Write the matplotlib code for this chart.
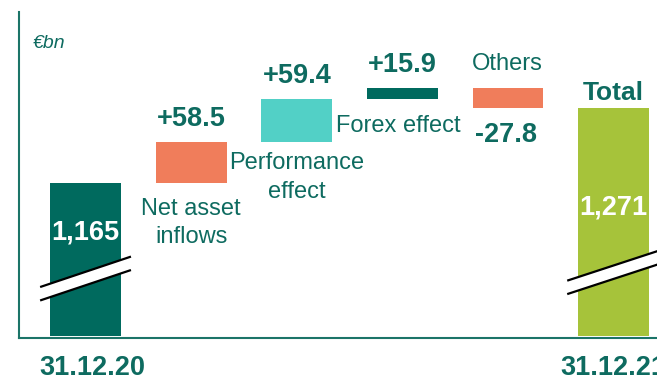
import matplotlib.pyplot as plt
from matplotlib.patches import Polygon

plt.rcParams["font.family"] = ["Liberation Sans", "DejaVu Sans"]

# AuM bridge, EUR bn
start_label = "31.12.20"
end_label = "31.12.21"
start_value = 1165
steps = ["Net asset\ninflows", "Performance\neffect", "Forex effect", "Others"]
deltas = [58.5, 59.4, 15.9, -27.8]
delta_labels = ["+58.5", "+59.4", "+15.9", "-27.8"]
total_value = 1271
start_text = "1,165"
total_text = "1,271"

DARK = "#006A5E"
TEXT = "#0E6B60"
ORANGE = "#F07D5B"
TURQ = "#52D0C6"
GREEN = "#A6C33A"
step_colors = [ORANGE, TURQ, DARK, ORANGE]

base = 949  # truncated axis floor
width = 0.67

fig = plt.figure(figsize=(6.57, 3.8), dpi=100)
ax = fig.add_axes([19 / 657, 42 / 380, 638 / 657, 326 / 380])
ax.set_xlim(-0.63, 5.41)
ax.set_ylim(946, 1406.5)

for side in ("top", "right"):
    ax.spines[side].set_visible(False)
for side in ("left", "bottom"):
    ax.spines[side].set_color("#1B7468")
    ax.spines[side].set_linewidth(1.5)
ax.set_xticks([])
ax.set_yticks([])

# start and end columns
ax.bar(0, start_value - base, bottom=base, width=width, color=DARK)
ax.bar(5, total_value - base, bottom=base, width=width, color=GREEN)

# floating steps
level = start_value
tops, bottoms = [], []
for i, d in enumerate(deltas):
    lo, hi = (level, level + d) if d >= 0 else (level + d, level)
    ax.bar(i + 1, hi - lo, bottom=lo, width=width, color=step_colors[i])
    tops.append(hi)
    bottoms.append(lo)
    level += d

bold = dict(fontsize=19.5, fontweight="bold", color=TEXT, ha="center", va="center")
norm = dict(fontsize=17, color=TEXT, ha="center", va="center", linespacing=1.4)

# value labels on the steps
for i, lab in enumerate(delta_labels):
    if deltas[i] >= 0:
        ax.annotate(lab, (i + 1, tops[i]), xytext=(0, 23), textcoords="offset pixels", **bold)
    else:
        ax.annotate(lab, (i + 1, bottoms[i]), xytext=(-2, -27), textcoords="offset pixels", **bold)

# step names
ax.annotate(steps[0], (1, bottoms[0]), xytext=(0, -40), textcoords="offset pixels", **norm)
ax.annotate(steps[1], (2, bottoms[1]), xytext=(0, -36), textcoords="offset pixels", **norm)
ax.annotate(steps[2], (3, bottoms[2]), xytext=(-4, -27), textcoords="offset pixels", **norm)
ax.annotate(steps[3], (4, tops[3]), xytext=(-1, 24), textcoords="offset pixels", **norm)
ax.annotate("Total", (5, total_value), xytext=(0, 15), textcoords="offset pixels",
            fontsize=19, fontweight="bold", color=TEXT, ha="center", va="center")

# values inside the big columns
ax.annotate(start_text, (0, start_value), xytext=(0, -50), textcoords="offset pixels",
            fontsize=19.5, fontweight="bold", color="white", ha="center", va="center")
ax.annotate(total_text, (5, total_value), xytext=(0, -100), textcoords="offset pixels",
            fontsize=19.5, fontweight="bold", color="white", ha="center", va="center")

# dates under the axis; the end date runs off the right edge
for x, dx, lab in ((0, 7, start_label), (5, 0, end_label)):
    ax.annotate(lab, (x, 946), xytext=(dx, -30), textcoords="offset pixels",
                annotation_clip=False, **bold)


def draw_break(xc, y0, half=0.43, rise=43, gap=19):
    xs = [xc - half, xc + half]
    lower = [y0, y0 + rise]
    upper = [y0 + gap, y0 + gap + rise]
    ax.add_patch(Polygon([(xs[0], lower[0]), (xs[1], lower[1]),
                          (xs[1], upper[1]), (xs[0], upper[0])],
                         closed=True, facecolor="white", edgecolor="none", zorder=3))
    ax.plot(xs, lower, color="black", lw=1.6, zorder=4, solid_capstyle="butt")
    ax.plot(xs, upper, color="black", lw=1.6, zorder=4, solid_capstyle="butt")


draw_break(0, 999)
draw_break(5, 1008, half=0.44)

fig.text(33 / 657, 1 - 44 / 380, "€bn", fontsize=14, style="italic", color=TEXT,
         ha="left", va="center")

fig.savefig("out.png", dpi=100)
